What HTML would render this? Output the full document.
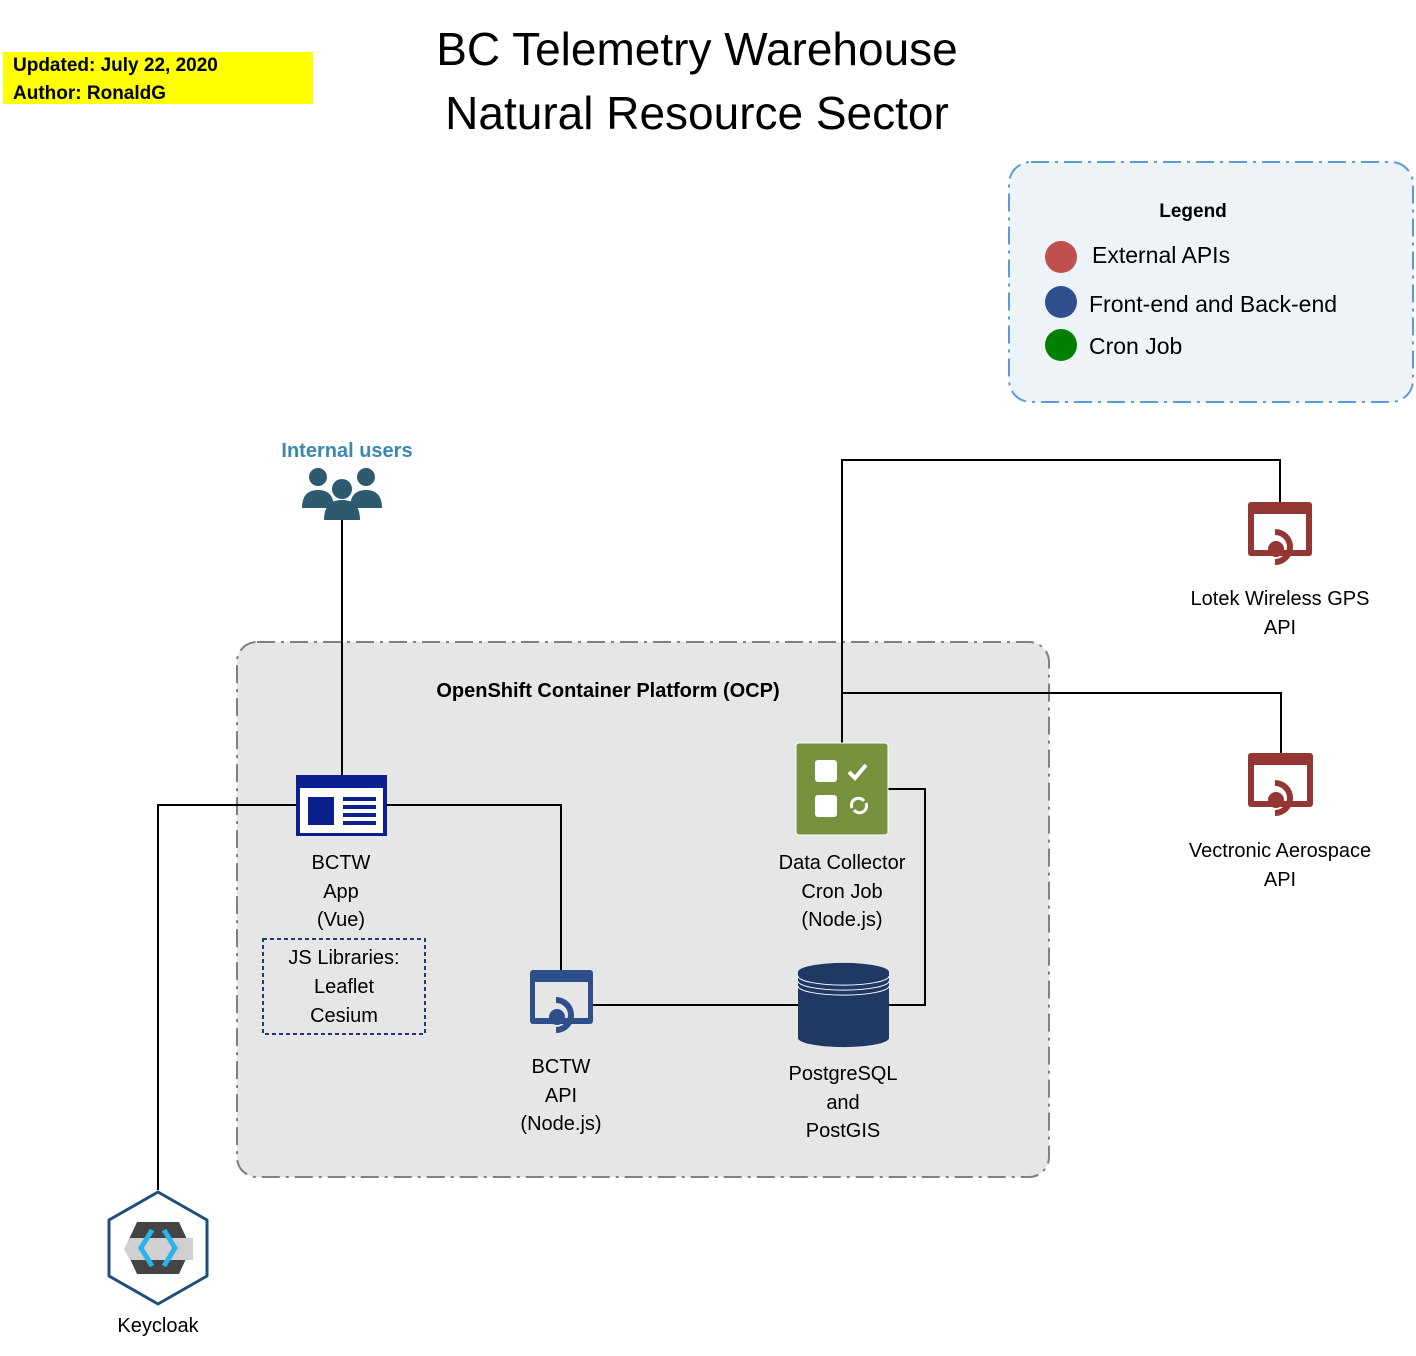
<!DOCTYPE html>
<html><head><meta charset="utf-8"><style>
body{margin:0;width:1416px;height:1351px;background:#fff;overflow:hidden;font-family:"Liberation Sans",sans-serif}
</style></head><body>
<svg width="1416" height="1351" xmlns="http://www.w3.org/2000/svg" font-family="Liberation Sans, sans-serif">
<rect x="3" y="52" width="310" height="52" fill="#ffff00"/>
<text x="13" y="71" font-size="19" font-weight="bold">Updated: July 22, 2020</text>
<text x="13" y="99" font-size="19" font-weight="bold">Author: RonaldG</text>
<text x="697" y="65" font-size="46" text-anchor="middle">BC Telemetry Warehouse</text>
<text x="697" y="129" font-size="46" text-anchor="middle">Natural Resource Sector</text>

<rect x="1009" y="162" width="404" height="240" rx="22" fill="#eef3f8" stroke="#5b9bd5" stroke-width="2" stroke-dasharray="18 6 3 6"/>
<text x="1193" y="217" font-size="19" font-weight="bold" text-anchor="middle">Legend</text>
<circle cx="1061" cy="257" r="16" fill="#c0504d"/>
<circle cx="1061" cy="302" r="16" fill="#2f4f8f"/>
<circle cx="1061" cy="345" r="16" fill="#008000"/>
<text x="1092" y="263" font-size="23">External APIs</text>
<text x="1089" y="312" font-size="23">Front-end and Back-end</text>
<text x="1089" y="354" font-size="23">Cron Job</text>

<rect x="237" y="642" width="812" height="535" rx="20" fill="#e6e6e6" stroke="#808080" stroke-width="2" stroke-dasharray="18 6 3 6"/>
<text x="608" y="697" font-size="20" font-weight="bold" text-anchor="middle">OpenShift Container Platform (OCP)</text>

<g fill="none" stroke="#000" stroke-width="2">
<path d="M342 520V775"/>
<path d="M158 1190V805H296"/>
<path d="M387 805H561V970"/>
<path d="M593 1005H798"/>
<path d="M889 1005H925V789H888"/>
<path d="M842 743V460H1280V502"/>
<path d="M842 693H1281V753"/>
</g>

<text x="347" y="457" font-size="20" font-weight="bold" fill="#3b88b0" text-anchor="middle">Internal users</text>
<g fill="#2e5a70">
<circle cx="318" cy="477" r="9"/><circle cx="366" cy="477" r="9"/><circle cx="342" cy="489" r="10"/>
<path d="M302 508q0-18 16-18t16 18z"/><path d="M350 508q0-18 16-18t16 18z"/>
<path d="M324 520q0-20 18-20t18 20z"/>
</g>

<rect x="296" y="775" width="91" height="61" fill="#0b1f8f"/>
<rect x="300" y="788" width="83" height="45" fill="#fff"/>
<rect x="308" y="797" width="26" height="28" fill="#0b1f8f"/>
<g fill="#0b1f8f"><rect x="343" y="797" width="33" height="4"/><rect x="343" y="805" width="33" height="4"/><rect x="343" y="813" width="33" height="4"/><rect x="343" y="821" width="33" height="4"/></g>
<g font-size="20" text-anchor="middle">
<text x="341" y="869">BCTW</text><text x="341" y="898">App</text><text x="341" y="926">(Vue)</text>
</g>
<rect x="263" y="939" width="162" height="95" fill="none" stroke="#1f3a7a" stroke-width="2" stroke-dasharray="4 3"/>
<g font-size="20" text-anchor="middle">
<text x="344" y="964">JS Libraries:</text><text x="344" y="993">Leaflet</text><text x="344" y="1022">Cesium</text>
</g>

<rect x="530" y="970" width="63" height="54" rx="3" fill="#2e4f8a"/>
<rect x="535" y="982" width="53" height="36" fill="#e6e6e6"/>
<path d="M556 1000a12 12 0 1 1 0 30" fill="none" stroke="#2e4f8a" stroke-width="6"/>
<circle cx="557" cy="1017" r="8" fill="#2e4f8a"/>
<g font-size="20" text-anchor="middle">
<text x="561" y="1073">BCTW</text><text x="561" y="1102">API</text><text x="561" y="1130">(Node.js)</text>
</g>

<path d="M798 972v66a45 9 0 0 0 91 0v-66a45 9 0 0 0-91 0z" fill="#1f3864"/>
<path d="M798 976a45 9 0 0 0 91 0M798 981a45 9 0 0 0 91 0M798 986a45 9 0 0 0 91 0" fill="none" stroke="#fff" stroke-width="1"/>
<g font-size="20" text-anchor="middle">
<text x="843" y="1080">PostgreSQL</text><text x="843" y="1109">and</text><text x="843" y="1137">PostGIS</text>
</g>

<rect x="796" y="743" width="92" height="92" rx="3" fill="#76923c" stroke="#fff" stroke-width="1"/>
<rect x="815" y="760" width="22" height="22" rx="3" fill="#fff"/>
<rect x="815" y="795" width="22" height="22" rx="3" fill="#fff"/>
<path d="M849 772l6 6 11-13" fill="none" stroke="#fff" stroke-width="4"/>
<path d="M852 808a7 7 0 0 1 12-7M866 803a7 7 0 0 1-12 7" fill="none" stroke="#fff" stroke-width="3"/>
<g font-size="20" text-anchor="middle">
<text x="842" y="869">Data Collector</text><text x="842" y="898">Cron Job</text><text x="842" y="926">(Node.js)</text>
</g>

<g>
<rect x="1248" y="502" width="64" height="54" rx="3" fill="#943634"/>
<rect x="1254" y="514" width="52" height="36" fill="#fff"/>
<path d="M1275 532a12 12 0 1 1 0 30" fill="none" stroke="#943634" stroke-width="6"/>
<circle cx="1276" cy="549" r="8" fill="#943634"/>
</g>
<g font-size="20" text-anchor="middle">
<text x="1280" y="605">Lotek Wireless GPS</text><text x="1280" y="634">API</text>
</g>
<g>
<rect x="1248" y="753" width="65" height="54" rx="3" fill="#943634"/>
<rect x="1254" y="765" width="53" height="36" fill="#fff"/>
<path d="M1275 783a12 12 0 1 1 0 30" fill="none" stroke="#943634" stroke-width="6"/>
<circle cx="1276" cy="800" r="8" fill="#943634"/>
</g>
<g font-size="20" text-anchor="middle">
<text x="1280" y="857">Vectronic Aerospace</text><text x="1280" y="886">API</text>
</g>

<path d="M158 1192l49 28v56l-49 28-49-28v-56z" fill="#fff" stroke="#1f4e79" stroke-width="3" stroke-linejoin="round"/>
<path d="M137 1222h42l12 26-12 26h-42l-12-26z" fill="#444"/>
<path d="M130 1238h63v22h-63l-6-11z" fill="#d0d0d0"/>
<path d="M152 1230l-11 18 11 18M164 1230l11 18-11 18" fill="none" stroke="#27b4e8" stroke-width="5"/>
<text x="158" y="1332" font-size="20" text-anchor="middle">Keycloak</text>
</svg>
</body></html>
